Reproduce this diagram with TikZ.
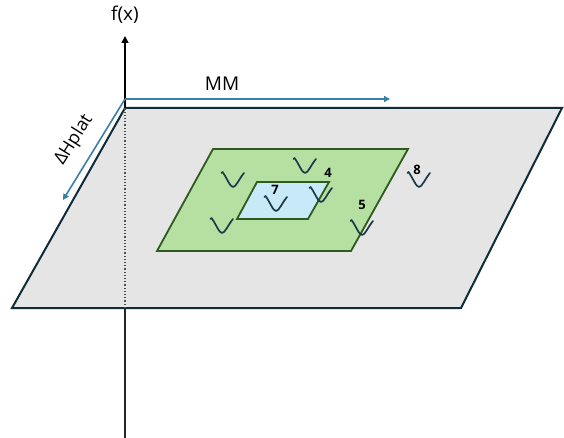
\documentclass[tikz,border=0pt]{standalone}
\usepackage{fontspec}
\setmainfont{Open Sans}
\usetikzlibrary{arrows.meta}
\definecolor{planegray}{HTML}{E5E5E5}
\definecolor{planeedge}{HTML}{102B3A}
\definecolor{mmblue}{HTML}{3A7FA6}
\definecolor{greenfill}{HTML}{B5E0A2}
\definecolor{greenedge}{HTML}{2F5A1F}
\definecolor{bluefill}{HTML}{C8E9F7}
\definecolor{wellink}{HTML}{1A3A4A}

\tikzset{
  plane/.style={fill=planegray,draw=planeedge,line width=2pt,line join=miter},
  region/.style={draw=greenedge,line width=1.8pt},
  dimarrow/.style={draw=mmblue,line width=1.6pt,-{Triangle[length=6pt,width=6pt]}},
  num/.style={font=\bfseries\fontsize{13}{15}\selectfont,inner sep=0pt},
  well/.pic={\draw[wellink,line width=1.7pt,line cap=round,line join=round]
    (-11.5,-7) -- (-10.5,-8) .. controls (-6,-2) and (-3,7) .. (0,7)
    .. controls (3,7) and (6,-1) .. (11,-7);}
}

\begin{document}
\begin{tikzpicture}[x=1pt,y=-1pt]
\useasboundingbox (0,0) rectangle (564,438);

% base plane
\coordinate (tl) at (125,108);
\coordinate (tr) at (562,108);
\coordinate (br) at (461,308);
\coordinate (bl) at (12,308);
\filldraw[plane] (tl) -- (tr) -- (br) -- (bl) -- cycle;

% vertical axis
\coordinate (ybot) at (125,438);
\coordinate (ytop) at (125,36);
\draw[black!85,line width=1.5pt] (ybot) -- (125,308);
\draw[black!70,line width=1.2pt,dotted] (125,308) -- (tl);
\draw[black,line width=1.5pt,-{Triangle[length=7pt,width=7pt]}] (tl) -- (ytop);
\node (fx) at (125,15) {\fontsize{19}{22}\selectfont f(x)};

% MM and dHplat arrows
\coordinate (o) at (125,99);
\coordinate (mmend) at (390,99);
\coordinate (dhend) at (63,200);
\draw[dimarrow] (o) -- (mmend);
\draw[dimarrow] (o) -- (dhend);
\node (mm) at (222,84) {\fontsize{19}{22}\selectfont MM};
\node[rotate=57.8] (dh) at (74,140) {\fontsize{18}{21}\selectfont ΔHplat};

% nested regions
\filldraw[region,fill=greenfill] (213,149) -- (408,149) -- (351,251) -- (157,251) -- cycle;
\filldraw[region,fill=bluefill] (257,182) -- (329,182) -- (308,219) -- (237,219) -- cycle;

% wells
\foreach \wx/\wy in {233/180, 305/166, 276/204, 321/195, 222/226, 362/228, 419/180}
  \pic at (\wx,\wy) {well};

% labels
\node[num] (n4) at (328,173) {4};
\node[num] (n7) at (275,190) {7};
\node[num] (n5) at (362,205) {5};
\node[num] (n8) at (417,170) {8};
\end{tikzpicture}
\end{document}
